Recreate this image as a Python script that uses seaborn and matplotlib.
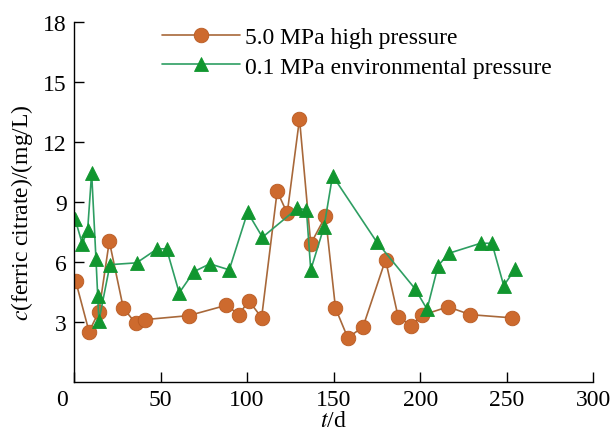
import matplotlib
matplotlib.use("Agg")
import matplotlib.pyplot as plt
import matplotlib.transforms as mtransforms
import seaborn as sns
import pandas as pd

# Data
t_high = [1, 8.7, 14.4, 20.4, 28.5, 35.6, 40.8, 66.2, 88.1, 95.3, 101, 108.4, 117.4, 123.2,
          130.3, 136.8, 145.3, 151.1, 158.2, 167, 180, 187.3, 195, 201.1, 216.1, 229, 253]
c_high = [5.05, 2.53, 3.53, 7.05, 3.71, 2.95, 3.13, 3.33, 3.85, 3.38, 4.08, 3.23, 9.55, 8.45,
          13.17, 6.92, 8.3, 3.7, 2.22, 2.77, 6.12, 3.27, 2.83, 3.35, 3.77, 3.38, 3.22]

t_env = [0.6, 4.8, 7.9, 10.2, 12.7, 13.7, 14.4, 20.8, 36.2, 48.1, 53.5, 60.8, 69.3, 78.5, 89.7,
         100.3, 108.9, 129.1, 134.3, 136.8, 144.5, 149.4, 174.8, 197, 204, 210.4, 216.7, 235,
         241.5, 248.3, 255]
c_env = [8.17, 6.92, 7.63, 10.47, 6.17, 4.33, 3.08, 5.88, 5.97, 6.67, 6.67, 4.47, 5.53, 5.92,
         5.62, 8.5, 7.25, 8.7, 8.62, 5.62, 7.78, 10.33, 7.03, 4.68, 3.65, 5.83, 6.45, 6.95,
         6.95, 4.83, 5.67]

label_high = "5.0 MPa high pressure"
label_env = "0.1 MPa environmental pressure"
x_ticks = [0, 50, 100, 150, 200, 250, 300]
y_ticks = [3, 6, 9, 12, 15, 18]

sns.set_theme(style="ticks")
plt.rcParams["font.family"] = ["Liberation Serif", "DejaVu Serif"]
plt.rcParams["mathtext.fontset"] = "stix"
plt.rcParams["text.color"] = "black"
plt.rcParams["axes.labelcolor"] = "black"
plt.rcParams["xtick.color"] = "black"
plt.rcParams["ytick.color"] = "black"

FS = 17

df_high = pd.DataFrame({"t": t_high, "c": c_high})
df_env = pd.DataFrame({"t": t_env, "c": c_env})

fig = plt.figure(figsize=(6.13, 4.35), dpi=100)
ax = fig.add_axes([0.1207, 0.119, 0.847, 0.8275])

sns.lineplot(data=df_high, x="t", y="c", ax=ax, sort=False, estimator=None,
             color="#A8683A", lw=1.2, marker="o", markersize=10.5,
             markerfacecolor="#CD6A2E", markeredgecolor="#B85A22", markeredgewidth=0.6,
             label=label_high)
sns.lineplot(data=df_env, x="t", y="c", ax=ax, sort=False, estimator=None,
             color="#2E9E62", lw=1.2, marker="^", markersize=10,
             markerfacecolor="#11962F", markeredgecolor="#11962F", markeredgewidth=0.6,
             label=label_env)

ax.set_xlim(0, 300)
ax.set_ylim(0, 18)
ax.set_xticks(x_ticks)
ax.set_xticklabels([str(v) for v in x_ticks])
ax.set_yticks(y_ticks)
ax.set_yticklabels([str(v) for v in y_ticks])
ax.tick_params(direction="in", length=7, width=1, labelsize=FS, colors="black",
               labelcolor="black", pad=5)
for side in ["top", "right"]:
    ax.spines[side].set_visible(False)
for side in ["left", "bottom"]:
    ax.spines[side].set_linewidth(1.0)
    ax.spines[side].set_color("black")

# shift the origin "0" label left
lbl0 = ax.get_xticklabels()[0]
lbl0.set_transform(lbl0.get_transform() + mtransforms.ScaledTranslation(-12/100, 0, fig.dpi_scale_trans))

ax.set_xlabel(r"$t$/d", fontsize=FS, labelpad=0, color="black")
ax.set_ylabel(r"$c$(ferric citrate)/(mg/L)", fontsize=FS, color="black")
ax.yaxis.set_label_coords(-0.075, 0.475)

leg = ax.legend(loc="upper left", bbox_to_anchor=(0.152, 1.015), frameon=False,
                fontsize=FS, handlelength=3.3, handletextpad=0.2, labelspacing=0.35,
                borderaxespad=0, labelcolor="black")

fig.savefig("out.png", dpi=100)
